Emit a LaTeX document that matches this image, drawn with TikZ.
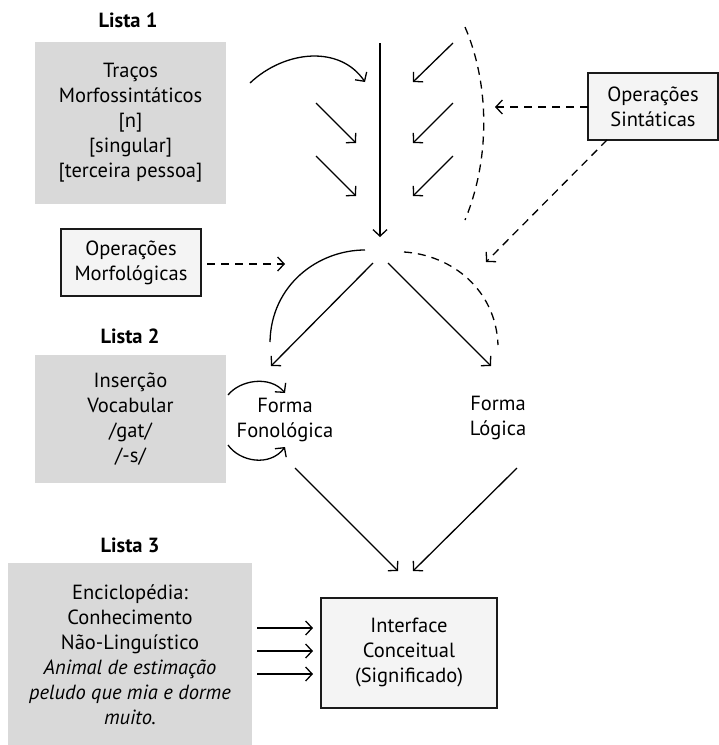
\documentclass[tikz,border=0pt]{standalone}
\usepackage{fontspec}
\setmainfont{PT Sans}
\usetikzlibrary{arrows.meta}
\definecolor{boxgray}{HTML}{D9D9D9}
\definecolor{boxlight}{HTML}{F4F4F4}
\definecolor{edgecol}{HTML}{1A1A1A}
\begin{document}
\begin{tikzpicture}[x=1pt,y=-1pt,
  txt/.style={align=center,font=\fontsize{20.5}{25}\selectfont,inner sep=0pt},
  ttl/.style={align=center,font=\fontsize{20.5}{25}\selectfont\bfseries,inner sep=0pt},
  graybox/.style={txt,fill=boxgray,draw=none},
  opbox/.style={txt,fill=boxlight,draw=edgecol,line width=1.3pt},
  ln/.style={line width=1.3pt,black},
  arr/.style={ln,-{Straight Barb[length=6.5pt,width=14pt,line width=1.3pt]}},
  dsh/.style={ln,dash pattern=on 8pt off 6pt},
  darr/.style={dsh,-{Straight Barb[length=6.5pt,width=14pt,line width=1.3pt]}}
]
\useasboundingbox (0,0) rectangle (719,745);

% titles
\node[ttl] (l1) at (128,20) {Lista 1};
\node[ttl] (l2) at (130,336) {Lista 2};
\node[ttl] (l3) at (130,545) {Lista 3};

% boxes
\node[graybox,minimum width=191pt,minimum height=162pt] (b1) at (130.5,123) {Traços\\Morfossintáticos\\{[n]}\\{[singular]}\\{[terceira pessoa]}};
\node[graybox,minimum width=191pt,minimum height=128pt] (b2) at (130.5,419) {Inserção\\Vocabular\\/gat/\\/-s/};
\node[graybox,minimum width=244pt,minimum height=184pt] (b3) at (130,655) {Enciclopédia:\\Conhecimento\\Não-Linguístico\\\textit{Animal de estimação}\\\textit{peludo que mia e dorme}\\\textit{muito.}};

\node[opbox,minimum width=140pt,minimum height=67pt] (mor) at (131,262.5) {Operações\\Morfológicas};
\node[opbox,minimum width=130pt,minimum height=67pt] (sin) at (653,106.5) {Operações\\Sintáticas};
\node[opbox,minimum width=176pt,minimum height=110pt] (ic) at (409,653) {Interface\\Conceitual\\(Significado)};

\node[txt] (ff) at (285,420) {Forma\\Fonológica};
\node[txt] (fl) at (498,418) {Forma\\Lógica};

% coordinates
\coordinate (vt) at (380,43);
\coordinate (vb) at (380,237);
\coordinate (ca) at (250,83);
\coordinate (cb) at (365,82);
\coordinate (la1) at (316,103); \coordinate (lb1) at (356,143);
\coordinate (la2) at (316,156); \coordinate (lb2) at (356,196);
\coordinate (ra1) at (453,43);  \coordinate (rb1) at (413,82);
\coordinate (ra2) at (453,103); \coordinate (rb2) at (413,143);
\coordinate (ra3) at (453,156); \coordinate (rb3) at (413,196);
\coordinate (da) at (465,27); \coordinate (db) at (465,220);
\coordinate (sa) at (588,107); \coordinate (sb) at (495,107);
\coordinate (sc) at (607,140); \coordinate (sd) at (486,262);
\coordinate (ma) at (207,264); \coordinate (mb) at (285,264);
\coordinate (cl) at (365,250); \coordinate (clb) at (270,342);
\coordinate (dl1) at (373,263); \coordinate (dl2) at (271,366);
\coordinate (dr1) at (388,263); \coordinate (dr2) at (491,366);
\coordinate (cr) at (404,252); \coordinate (crb) at (498,345);
\coordinate (fa) at (228,395); \coordinate (fb) at (285,393);
\coordinate (fc) at (228,445); \coordinate (fd) at (285,447);
\coordinate (ffo) at (295,468); \coordinate (ffi) at (398,571);
\coordinate (flo) at (517,468); \coordinate (fli) at (413,571);
\coordinate (e1a) at (257,628); \coordinate (e1b) at (313,628);
\coordinate (e2a) at (257,651); \coordinate (e2b) at (313,651);
\coordinate (e3a) at (257,674); \coordinate (e3b) at (313,674);

% top section
\draw[arr] (vt) -- (vb);
\draw[arr] (ca) .. controls (285,50) and (340,45) .. (cb);
\draw[arr] (la1) -- (lb1);
\draw[arr] (la2) -- (lb2);
\draw[arr] (ra1) -- (rb1);
\draw[arr] (ra2) -- (rb2);
\draw[arr] (ra3) -- (rb3);
\draw[dsh] (da) .. controls (490,85) and (490,160) .. (db);
\draw[darr] (sa) -- (sb);
\draw[darr] (sc) -- (sd);
\draw[darr] (ma) -- (mb);

% middle section
\draw[ln] (cl) .. controls (318,250) and (271,285) .. (clb);
\draw[arr] (dl1) -- (dl2);
\draw[arr] (dr1) -- (dr2);
\draw[dsh] (cr) .. controls (452,255) and (496,290) .. (crb);
\draw[arr] (fa) .. controls (240,380) and (270,375) .. (fb);
\draw[arr] (fc) .. controls (240,462) and (270,467) .. (fd);

% bottom section
\draw[arr] (ffo) -- (ffi);
\draw[arr] (flo) -- (fli);
\draw[arr] (e1a) -- (e1b);
\draw[arr] (e2a) -- (e2b);
\draw[arr] (e3a) -- (e3b);
\end{tikzpicture}
\end{document}
